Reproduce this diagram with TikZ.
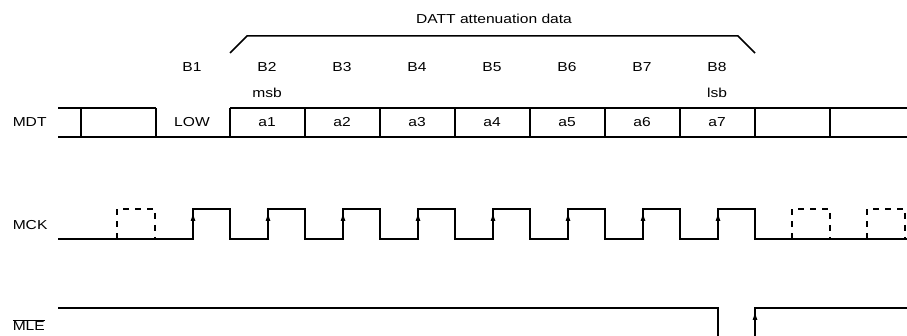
\documentclass[tikz,border=0pt]{standalone}
\usepackage{fontspec}
\setmainfont[FakeStretch=1.2]{Liberation Sans}
\usetikzlibrary{arrows.meta}
\begin{document}
\begin{tikzpicture}[x=1pt,y=-1pt,line width=1.5pt,
    lbl/.style={font=\fontsize{13}{15}\selectfont,inner sep=0pt},
    dsh/.style={dash pattern=on 6pt off 6pt},
    rise/.style={-{Latex[length=9pt,width=5pt]}}]
    \clip (0,0) rectangle (907,336);

    % Klammer ueber den Datenbits
    \draw (230,53) -- (247,36) -- (738,36) -- (755,53);
    \node[lbl] (datt) at (494,19) {DATT attenuation data};

    % Bitnummern
    \foreach \i in {1,...,8}
        \node[lbl] (b\i) at ({117+75*\i},67) {B\i};
    \node[lbl] (msb) at (267,93) {msb};
    \node[lbl] (lsb) at (717,93) {lsb};

    % MDT
    \node[lbl,anchor=west] (mdt) at (12,122) {MDT};
    \draw (58,108) -- (156,108) (230,108) -- (907,108);
    \draw (58,137) -- (907,137);
    \foreach \x in {81,156,230,305,...,830}
        \draw (\x,108) -- (\x,137);
    \node[lbl] (low) at (192,122) {LOW};
    \foreach \i in {1,...,7}
        \node[lbl] (a\i) at ({192+75*\i},122) {a\i};

    % MCK
    \node[lbl,anchor=west] (mck) at (12,225) {MCK};
    \draw (58,239) \foreach \k in {0,...,7} {
        -- ({193+75*\k},239) -- ({193+75*\k},209)
        -- ({230+75*\k},209) -- ({230+75*\k},239) } -- (907,239);
    \foreach \k in {0,...,7}
        \draw[rise] ({193+75*\k},239) -- ({193+75*\k},212);
    \foreach \x in {117,792,867}
        \draw[dsh] (\x,239) -- (\x,209) -- (\x+38,209) -- (\x+38,239);

    % MLE
    \node[lbl,anchor=west] (mle) at (12,325) {$\overline{\mbox{MLE}}$};
    \draw (58,308) -- (718,308) -- (718,336);
    \draw (755,336) -- (755,308) -- (907,308);
    \draw[rise] (755,336) -- (755,311);
\end{tikzpicture}
\end{document}
